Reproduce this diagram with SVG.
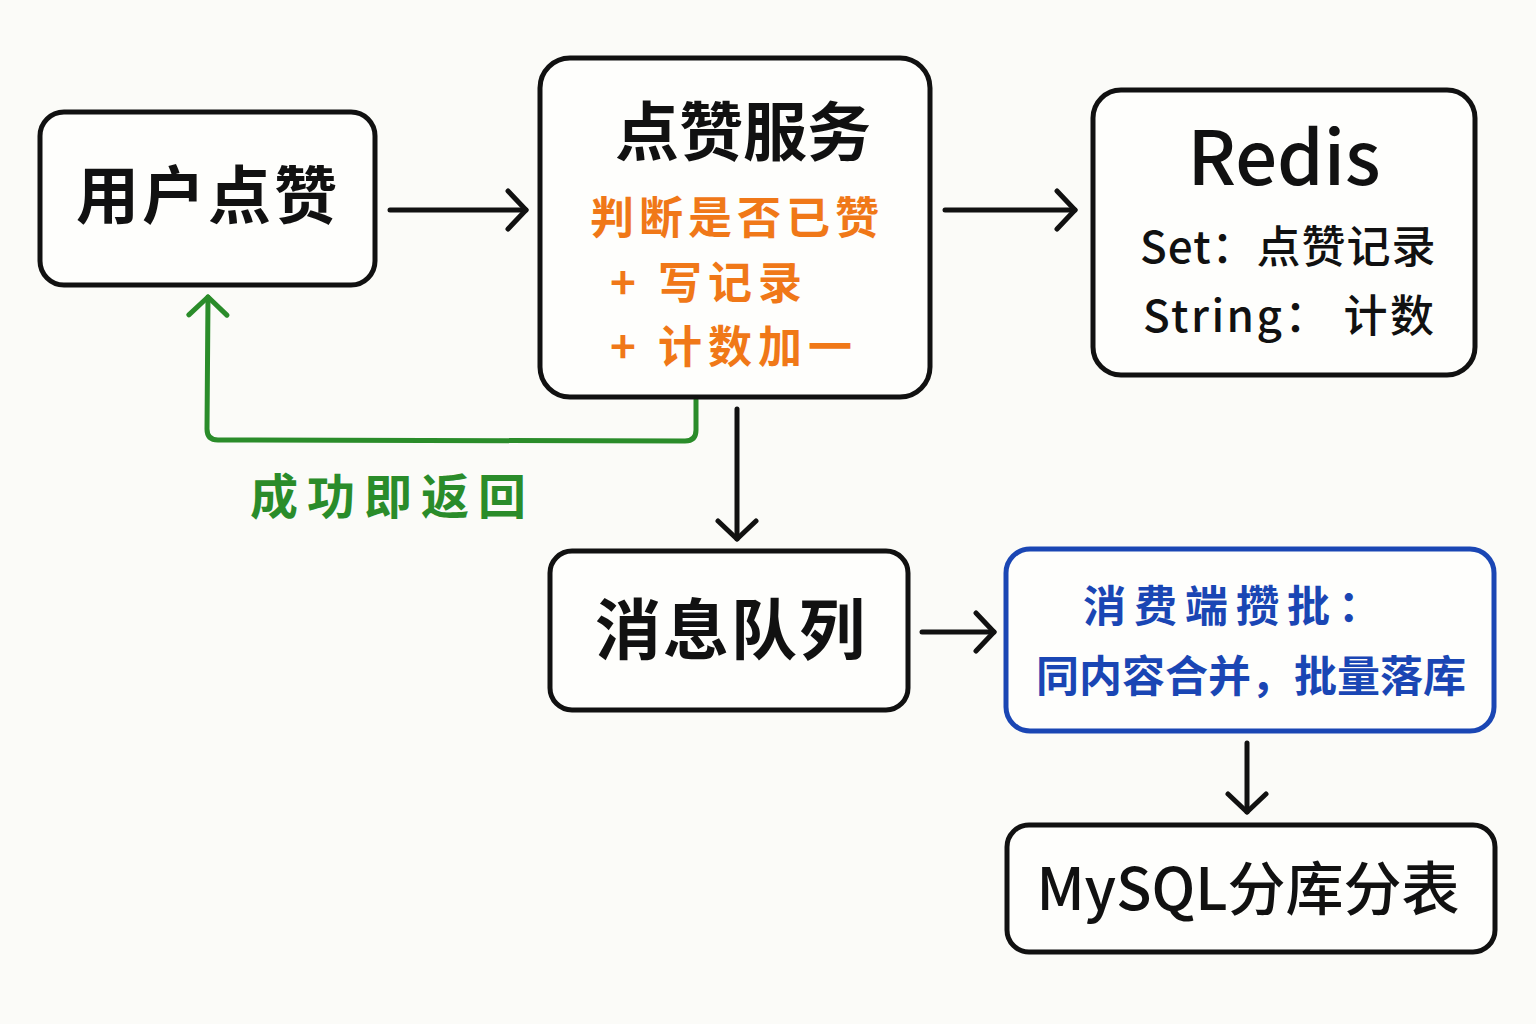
<svg xmlns="http://www.w3.org/2000/svg" width="1536" height="1024" viewBox="0 0 1536 1024">
<defs>
<style>
.box{fill:#fefefc;stroke:#111;stroke-width:5}
.bbox{fill:#fefefc;stroke:#1a46b4;stroke-width:5}
.t{font-family:"Noto Sans CJK SC","Noto Sans",sans-serif;fill:#111}
.big{font-size:62px;font-weight:700;text-anchor:middle}
.or{fill:#f07818;font-size:44px;font-weight:700;letter-spacing:6px}
.bl{fill:#1a46b4;font-size:43px;font-weight:700}
.gr{fill:#2a8c2a;font-size:48px;font-weight:700;letter-spacing:9px}
.rd{font-size:44px;font-weight:500}
.c{fill:none;stroke:#111;stroke-width:5;stroke-linecap:round;stroke-linejoin:round}
.g{fill:none;stroke:#2a8c2a;stroke-width:5;stroke-linecap:round;stroke-linejoin:round}
</style>
<marker id="ahg" viewBox="0 0 44 44" refX="40" refY="22" markerWidth="44" markerHeight="44" markerUnits="userSpaceOnUse" orient="auto">
<path d="M22,3 L40,22 L22,41" fill="none" stroke="#2a8c2a" stroke-width="5" stroke-linecap="round" stroke-linejoin="round"/>
</marker>
<marker id="ahb" viewBox="0 0 44 44" refX="40" refY="22" markerWidth="44" markerHeight="44" markerUnits="userSpaceOnUse" orient="auto">
<path d="M22,3 L40,22 L22,41" fill="none" stroke="#111" stroke-width="5" stroke-linecap="round" stroke-linejoin="round"/>
</marker>
</defs>
<rect width="1536" height="1024" fill="#fbfbf8"/>
<g id="connectors">
<path class="c" d="M390,210 L526,210" marker-end="url(#ahb)"/>
<path class="c" d="M945,210 L1075,210" marker-end="url(#ahb)"/>
<path class="c" d="M737,409 L737,539" marker-end="url(#ahb)"/>
<path class="c" d="M922,632 L994,632" marker-end="url(#ahb)"/>
<path class="c" d="M1247,743 L1247,812" marker-end="url(#ahb)"/>
<path class="g" d="M696,400 L696,430 Q696,441 685,441 L218,440 Q207,440 207,429 L208,297" marker-end="url(#ahg)"/>
<text class="t gr" x="250" y="514">成功即返回</text>
</g>
<g id="user">
<rect class="box" x="40" y="112" width="335" height="173" rx="24"/>
<text class="t big" x="208" y="218" style="font-size:63px;letter-spacing:3px">用户点赞</text>
</g>
<g id="service">
<rect class="box" x="540" y="58" width="390" height="339" rx="30"/>
<text class="t big" x="743" y="155" style="font-size:64px">点赞服务</text>
<text class="t or" x="590" y="234" style="letter-spacing:5px">判断是否已赞</text>
<text class="t or" x="610" y="299">+ 写记录</text>
<text class="t or" x="610" y="363">+ 计数加一</text>
</g>
<g id="redis">
<rect class="box" x="1093" y="90" width="382" height="285" rx="28"/>
<text class="t" x="1284" y="185" style="font-size:74px;font-weight:500;text-anchor:middle">Redis</text>
<text class="t rd" x="1140" y="263" style="letter-spacing:1px">Set：点赞记录</text>
<text class="t rd" x="1143" y="332" style="letter-spacing:2.5px">String： 计数</text>
</g>
<g id="mq">
<rect class="box" x="550" y="551" width="358" height="159" rx="22"/>
<text class="t big" x="731" y="654" style="font-size:66px;letter-spacing:2px">消息队列</text>
</g>
<g id="consumer">
<rect class="bbox" x="1006" y="549" width="488" height="182" rx="24"/>
<text class="t bl" x="1083" y="622" style="letter-spacing:8px">消费端攒批：</text>
<text class="t bl" x="1036" y="692">同内容合并，批量落库</text>
</g>
<g id="mysql">
<rect class="box" x="1007" y="825" width="488" height="127" rx="22"/>
<text class="t big" x="1248" y="910" style="font-size:58px;font-weight:500">MySQL分库分表</text>
</g>
</svg>
